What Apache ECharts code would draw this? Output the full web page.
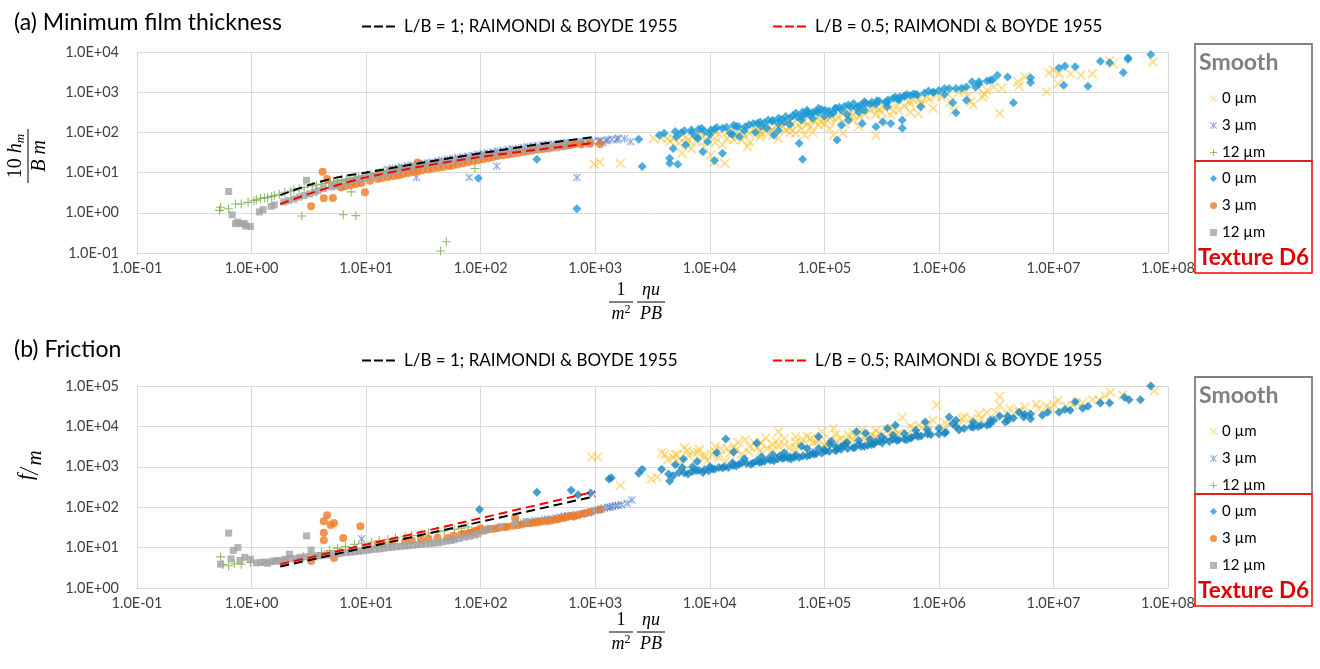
<!DOCTYPE html>
<html><head><meta charset="utf-8">
<script src="https://cdn.jsdelivr.net/npm/echarts@6/dist/echarts.min.js"></script>
<style>html,body{margin:0;padding:0;background:#fff}#c{width:1320px;height:669px}</style>
</head><body><div id="c"></div>
<script>
// ---------- tick labels ----------
const xTickLabels = ['1.0E-01','1.0E+00','1.0E+01','1.0E+02','1.0E+03','1.0E+04','1.0E+05','1.0E+06','1.0E+07','1.0E+08'];
const yTickLabelsA = ['1.0E-01','1.0E+00','1.0E+01','1.0E+02','1.0E+03','1.0E+04'];
const yTickLabelsB = ['1.0E+00','1.0E+01','1.0E+02','1.0E+03','1.0E+04','1.0E+05'];

// ---------- (a) Minimum film thickness ----------
const smooth0A = [[7.41e7,5.62e3],[3.31e7,5.13e3],[3.09e7,6.03e3],[2.19e7,2.88e3],[1.74e7,2.63e3],[1.41e7,2.88e3],[1.12e7,2.88e3],[1.10e7,1.62e3],[8.71e6,1.02e3],[1.00e7,3.55e3],[9.12e6,3.02e3],[5.62e6,2.40e3],[4.90e6,1.82e3],[3.39e6,295],[3.02e6,1.35e3],[2.63e6,1.12e3],[2.40e6,759],[2.00e6,479],[1.91e6,575],[1.66e6,1.12e3],[1.35e6,347],[1.05e6,759],[8.32e5,692],[6.61e5,295],[6.76e5,692],[5.62e5,525],[4.47e5,355],[3.80e5,269],[3.24e5,437],[2.82e5,85.1],[2.51e5,355],[2.04e5,245],[1.82e5,269],[1.45e5,95.5],[1.20e5,85.1],[1.51e5,166],[1.12e5,224],[8.91e4,245],[7.59e4,138],[6.76e4,85.1],[5.62e4,95.5],[4.79e4,182],[4.07e4,126],[3.55e4,85.1],[3.24e4,138],[2.75e4,77.6],[2.40e4,115],[2.14e4,43.7],[1.91e4,64.6],[1.62e4,64.6],[1.45e4,105],[1.29e4,49.0],[1.10e4,105],[1.02e4,27.5],[9.55e3,64.6],[8.13e3,95.5],[7.59e3,58.9],[6.92e3,39.8],[6.46e3,64.6],[5.75e3,30.2],[5.37e3,53.7],[4.79e3,70.8],[4.27e3,70.8],[3.80e3,70.8],[3.24e3,70.8],[1.35e4,17.0],[1.10e4,18.6],[1.66e3,17.0],[1.10e3,18.2],[977,16.2],[5.01e4,126],[7.94e4,200],[1.00e5,158],[1.58e5,224],[2.24e5,282],[2.00e4,89.1],[2.82e4,100],[3.16e5,316],[5.01e5,447],
  [4.5e3,60],[5.2e3,80],[6.2e3,75],[7.2e3,85],[8.5e3,75],[1.05e4,80],[1.2e4,90],[1.5e4,85],[1.7e4,100],[1.9e4,110],[2.2e4,95],[2.6e4,120],[2.9e4,130],[3.4e4,110],[3.8e4,150],[4.3e4,140],[4.6e4,115],[5.2e4,160],[5.9e4,150],[6.6e4,180],[7.1e4,160],[8.3e4,190],[9.3e4,180],[1.05e5,210],[1.15e5,260],[1.3e5,250],[1.45e5,290],[1.65e5,270],[1.9e5,320],[2.2e5,370],[2.7e5,400],[3.0e5,380],[3.5e5,470],[4.2e5,520],[5.5e5,600],[6.0e5,650],[7.0e5,560],[7.8e5,750],[9.5e5,820],[1.2e6,900],[1.5e6,1000],[2.2e6,1300],
  [6.3e3,50],[8.9e3,45],[1.12e4,56],[1.41e4,71],[1.78e4,79],[2.24e4,56],[2.82e4,89],[3.55e4,112],[3.98e4,71],[5.0e4,100],[6.3e4,126],[7.9e4,100],[8.9e4,158],[1.12e5,126],[1.26e5,200],[1.78e5,200],[2.0e5,141],[2.82e5,282],[3.16e5,200],[3.98e5,355],[5.62e5,316],[7.08e5,501],[8.9e5,398],[1.26e6,562],[1.78e6,794],[2.5e6,891],[3.55e6,1260],[5.0e6,1410]];
const smooth3A = [[15.5,12.0],[22.9,14.5],[34.7,17.4],[51.3,21.4],[77.6,25.7],[115,30.9],[174,37.2],[257,43.7],[389,50.1],[575,55.0],[871,60.3],[1.07e3,60.3],[1.29e3,66.1],[1.58e3,72.4],[1.55e3,64.6],[2.04e3,58.9],[27.5,7.59],[79.4,7.59],[138,14.5],[692,7.59],[19.1,13.2],[28.2,15.8],[42.7,19.5],[63.1,23.4],[95.5,28.2],[141,33.9],[214,39.8],[316,46.8],[479,52.5],[708,57.5],[1.17e3,55.0],[794,52.5],
  [17,12.6],[20.5,13.8],[25,15],[31,16.6],[38,18.2],[46,20.0],[57,22.4],[70,24.5],[86,27],[105,29.5],[128,32.4],[157,35.5],[190,38.5],[235,42],[285,45.7],[350,49],[430,51],[530,54],[650,56],[780,58],[950,59],[1.25e3,62],[1.4e3,68],[1.1e3,63],[1.8e3,70]];
const smooth12A = [[0.525,1.15],[0.537,1.38],[0.631,1.26],[0.724,1.66],[0.813,1.66],[0.933,1.82],[1.05,2.00],[1.20,2.29],[1.38,2.40],[1.58,2.69],[1.95,3.24],[2.88,4.27],[4.07,5.13],[5.62,6.31],[7.94,7.59],[11.0,9.12],[15.5,11.0],[21.9,13.2],[30.2,15.8],[89.1,12.6],[2.75,0.832],[7.41,3.31],[6.31,0.891],[8.13,0.851],[50.1,0.191],[44.7,0.112],[2.34,3.72],[3.39,4.68],[4.79,5.75],[6.76,6.92],[9.33,8.32],[13.2,10.0],
  [1.1,2.1],[1.3,2.35],[1.5,2.55],[1.75,2.9],[2.2,3.45],[2.6,3.9],[3.7,4.9],[4.4,5.4],[5.2,5.9],[6.1,6.6],[7.2,7.2],[8.6,7.9],[10.3,8.7],[12.2,9.6],[14.3,10.6],[17,11.6],[19.5,12.4],[24,14],[27,14.9],[34,16.5],[40,17.6]];
const tex0A = [[7.08e7,8.71e3],[4.47e7,7.24e3],[4.47e7,6.61e3],[4.07e7,3.09e3],[3.09e7,5.37e3],[2.57e7,5.89e3],[2.00e7,1.41e3],[1.55e7,4.27e3],[1.26e7,4.47e3],[1.12e7,3.98e3],[1.23e7,1.48e3],[6.31e6,1.74e3],[6.31e6,2.29e3],[4.47e6,550],[3.98e6,2.40e3],[3.24e6,2.63e3],[2.95e6,2.04e3],[2.63e6,1.91e3],[2.24e6,1.82e3],[2.09e6,1.35e3],[1.95e6,1.82e3],[1.74e6,1.35e3],[1.74e6,631],[1.41e6,1.23e3],[1.32e6,550],[1.41e6,309],[1.23e6,1.23e3],[1.12e6,1.23e3],[8.13e5,1.07e3],[6.92e5,437],[5.25e5,871],[4.57e5,759],[4.17e5,759],[3.55e5,437],[2.88e5,617],[2.82e5,138],[3.24e5,182],[3.80e5,166],[4.79e5,204],[4.79e5,126],[2.24e5,575],[2.14e5,166],[1.91e5,398],[1.62e5,479],[1.62e5,204],[1.41e5,151],[1.29e5,64.6],[1.20e5,302],[1.02e5,355],[8.91e4,398],[7.59e4,269],[6.46e4,324],[5.62e4,302],[6.31e4,204],[6.03e4,53.7],[6.46e4,21.4],[5.01e4,229],[4.47e4,182],[3.98e4,166],[3.63e4,85.1],[3.24e4,204],[2.75e4,182],[2.40e4,166],[2.04e4,138],[1.82e4,77.6],[1.62e4,151],[1.51e4,95.5],[1.29e4,126],[1.29e4,30.2],[1.15e4,132],[1.10e4,20.0],[1.02e4,115],[9.55e3,58.9],[8.51e3,126],[7.59e3,77.6],[6.92e3,115],[6.17e3,49.0],[5.62e3,97.7],[5.13e3,77.6],[4.79e3,39.8],[4.47e3,22.9],[4.47e3,17.0],[5.25e3,16.2],[3.63e3,85.1],[2.57e3,14.1],[2.40e3,67.6],[8.71e3,33.1],[309,21.4],[95.5,7.24],[692,1.26],[2.82e4,141],[7.94e4,316],[1.00e5,251],[2.00e5,316],[2.51e5,501],[3.98e5,708],[5.62e5,832],[3.98e4,224],[7.08e4,355],
  [4.0e3,95],[5.0e3,105],[6.0e3,110],[7.0e3,100],[8.0e3,120],[9.0e3,105],[1.1e4,120],[1.4e4,135],[1.7e4,140],[2.2e4,155],[2.6e4,170],[3.0e4,175],[3.5e4,190],[4.2e4,210],[4.6e4,250],[5.3e4,260],[5.8e4,240],[6.8e4,280],[7.2e4,300],[8.5e4,330],[9.5e4,370],[1.1e5,340],[1.25e5,400],[1.35e5,420],[1.5e5,450],[1.7e5,420],[1.8e5,520],[2.1e5,480],[2.3e5,540],[2.6e5,560],[3.0e5,600],[3.4e5,560],[3.6e5,650],[4.4e5,700],[5.0e5,800],[6.0e5,900],[6.5e5,850],[7.5e5,960],[9.0e5,1000],[1.0e6,1100],
  [7.9e3,71],[1.0e4,89],[1.58e4,89],[2.0e4,112],[2.5e4,100],[3.16e4,126],[3.98e4,112],[5.0e4,158],[6.3e4,251],[7.9e4,224],[8.9e4,316],[1.12e5,282],[1.41e5,355],[1.58e5,282],[2.0e5,447],[2.24e5,355],[2.82e5,501],[3.55e5,562],[4.47e5,631],[5.0e5,794],[6.3e5,891],[8.9e5,1000],[1.12e6,891],[1.58e6,1260],[2.24e6,1580],[2.82e6,2000],[1.78e4,141],[3.55e4,200],[7.08e4,316],[1.26e5,398]];
const tex3A = [[4.17,10.5],[4.57,6.92],[4.27,2.29],[5.13,2.34],[3.31,1.45],[9.77,3.24],[28.2,17.8],[6.03,4.27],[9.12,5.50],[12.6,6.92],[19.1,8.51],[28.2,11.0],[42.7,13.2],[63.1,15.8],[95.5,20.4],[141,25.7],[214,30.9],[316,37.2],[479,43.7],[661,51.3],[1.10e3,51.3],[7.41,4.90],[15.5,7.76],[23.4,9.77],[34.7,12.0],[52.5,14.5],[77.6,18.2],[117,22.9],[174,28.2],[257,33.9],[389,39.8],[562,46.8],
  [6.6,4.6],[8.2,5.2],[10.8,6.3],[13.8,7.3],[17.2,8.2],[21,9.2],[26,10.4],[31,11.5],[38,12.6],[47,13.8],[57,15.1],[70,17],[86,19.3],[105,21.6],[128,24.3],[157,27],[190,29.5],[235,32.5],[285,35.5],[350,38.5],[430,42],[520,45],[600,48],[750,50],[900,52]];
const tex12A = [[0.631,3.39],[0.676,0.891],[0.759,0.589],[0.813,0.537],[0.871,0.537],[0.891,0.468],[0.977,0.457],[0.724,0.537],[1.17,1.05],[1.26,1.20],[1.48,1.45],[1.58,1.58],[3.02,6.46],[2.34,2.19],[3.55,3.24],[5.25,4.68],[7.94,6.31],[11.7,8.32],[17.8,11.0],[26.3,14.1],[39.8,17.0],[58.9,20.4],[89.1,24.5],[132,29.5],[200,33.9],[295,38.9],[447,45.7],[575,49.0],[1.91,1.86],[2.88,2.69],[4.27,3.98],[6.46,5.50],[9.55,7.24],[14.5,9.55],[21.9,12.6],[32.4,15.5],[47.9,18.6],[72.4,22.4],[107,26.9],[162,31.6],[240,36.3],[363,41.7],
  [2.1,2.0],[2.6,2.45],[3.2,2.95],[3.8,3.55],[5.0,4.4],[5.8,5.0],[7.0,5.8],[8.7,6.8],[10.5,7.8],[12.8,8.9],[16.0,10.3],[19.5,11.7],[24,13.3],[29,14.8],[35,16.3],[43,17.8],[53,19.5],[65,21.4],[80,23.4],[97,25.5],[118,28.2],[145,30.5],[180,33],[220,35.5],[270,37.7],[330,40.5],[400,43.5],[510,47.5]];
const lb1A = [[1.78,2.75],[3.16,4.90],[5.62,7.60],[10,10.0],[31.6,17.8],[100,30.2],[316,50.1],[1000,77.6]];
const lb05A = [[1.78,1.66],[3.16,2.95],[5.62,4.90],[10,7.60],[31.6,14.5],[100,24.5],[316,37.2],[1000,55.0]];

// ---------- (b) Friction ----------
const smooth0B = [[7.59e7,7.59e4],[3.16e7,6.92e4],[2.82e7,5.75e4],[2.19e7,4.57e4],[1.48e7,3.31e4],[1.10e7,4.37e4],[8.71e6,3.16e4],[7.41e6,2.75e4],[5.62e6,3.02e4],[4.17e6,2.75e4],[3.39e6,5.50e4],[3.39e6,3.39e4],[2.63e6,2.24e4],[2.34e6,1.55e4],[1.91e6,1.55e4],[1.66e6,1.70e4],[9.55e5,3.39e4],[8.91e5,1.41e4],[6.76e5,1.07e4],[6.03e5,8.91e3],[4.79e5,1.70e4],[4.47e5,6.76e3],[3.55e5,8.13e3],[3.02e5,6.76e3],[2.57e5,6.17e3],[2.14e5,8.13e3],[1.91e5,5.13e3],[1.62e5,6.17e3],[1.41e5,5.13e3],[1.20e5,8.91e3],[1.12e5,4.68e3],[9.55e4,7.41e3],[7.59e4,5.13e3],[6.46e4,4.68e3],[5.62e4,5.62e3],[5.01e4,2.95e3],[3.98e4,7.41e3],[3.80e4,4.27e3],[3.09e4,5.13e3],[2.75e4,2.45e3],[2.45e4,3.89e3],[2.04e4,4.68e3],[1.91e4,2.04e3],[1.62e4,3.24e3],[1.38e4,1.41e3],[1.20e4,1.70e3],[1.10e4,2.45e3],[9.55e3,1.41e3],[8.13e3,2.69e3],[7.24e3,2.24e3],[6.76e3,794],[6.03e3,2.95e3],[5.50e3,1.26e3],[4.79e3,1.70e3],[4.07e3,2.04e3],[3.80e3,2.24e3],[3.47e3,550],[3.09e3,501],[1.66e3,347],[1.05e3,1.74e3],[933,1.74e3],[3.16e4,2.82e3],[4.47e4,3.55e3],[7.94e4,3.98e3],[1.00e5,3.55e3],[1.58e5,4.47e3],[2.51e5,5.01e3],[3.98e5,6.31e3],[1.26e6,1.12e4],[3.98e6,2.00e4],
  [4.3e3,1500],[5.2e3,2000],[6.5e3,1900],[7.8e3,2300],[9.0e3,1700],[1.05e4,2000],[1.25e4,2800],[1.5e4,2200],[1.7e4,2600],[2.2e4,2300],[2.6e4,3000],[3.5e4,2600],[4.0e4,3200],[5.5e4,3000],[6.2e4,3500],[7.0e4,2800],[8.5e4,4200],[1.05e5,4000],[1.3e5,4400],[1.5e5,3800],[1.75e5,4700],[2.3e5,4400],[2.8e5,5500],[3.4e5,5200],[4.2e5,6000],[5.3e5,6500],[6.5e5,7500],[8.0e5,7800],[1.1e6,9000],[1.5e6,1.1e4],[2.0e6,1.2e4],[5.0e6,2.2e4],[9.5e6,2.7e4],[1.3e7,3.2e4],[1.8e7,3.8e4],[2.5e7,4.5e4],[4.0e7,6.0e4],
  [5.0e3,2000],[6.3e3,2510],[8.9e3,2000],[1.12e4,3160],[1.41e4,2820],[1.78e4,3980],[2.24e4,3160],[2.82e4,3980],[3.55e4,3550],[4.47e4,5010],[5.62e4,3980],[7.08e4,5620],[8.9e4,4470],[1.26e5,6310],[1.78e5,7080],[2.24e5,5620],[2.82e5,7940],[3.98e5,8910],[5.62e5,1.0e4],[7.9e5,1.12e4],[1.12e6,1.26e4],[1.58e6,1.58e4],[2.24e6,2.0e4],[3.16e6,2.24e4],[5.0e6,2.51e4],[7.08e6,3.55e4],[1.0e7,3.55e4],[1.58e7,3.98e4]];
const smooth3B = [[9.12,16.6],[275,43.7],[389,49.0],[537,60.3],[759,67.6],[1.00e3,81.3],[1.29e3,100],[1.58e3,110],[2.09e3,151],[331,45.7],[457,53.7],[631,63.1],[871,72.4],[1.12e3,89.1],[1.41e3,105],[224,39.8],
  [300,47],[360,50],[420,52],[500,57],[580,61],[690,66],[800,70],[920,77],[1.05e3,85],[1.2e3,95],[1.35e3,100],[1.5e3,108],[1.7e3,115],[1.9e3,125]];
const smooth12B = [[0.537,5.89],[0.631,3.55],[0.813,3.89],[0.977,4.27],[0.562,3.80],[0.708,3.98],[4.07,7.59],[7.94,12.0],[15.5,15.8],[30.2,21.4],[58.9,28.2],[77.6,32.4],[5.62,9.55],[11.2,13.8],[21.9,18.6],[41.7,24.5],[2.82,6.03],
  [3.3,6.8],[4.8,8.5],[6.6,10.6],[9.2,12.8],[13,15],[18,17.2],[25,20],[35,23],[48,26],[68,30]];
const tex0B = [[7.08e7,1.00e5],[5.75e7,4.57e4],[4.57e7,4.57e4],[4.17e7,5.25e4],[3.09e7,3.80e4],[2.57e7,3.80e4],[2.00e7,3.16e4],[1.55e7,4.07e4],[1.26e7,2.63e4],[1.12e7,2.24e4],[6.31e6,1.55e4],[6.31e6,2.04e4],[5.01e6,2.24e4],[4.47e6,1.62e4],[3.80e6,1.29e4],[3.39e6,1.82e4],[3.02e6,1.41e4],[2.63e6,1.07e4],[2.34e6,1.07e4],[1.91e6,9.77e3],[1.66e6,8.91e3],[1.41e6,1.41e4],[1.23e6,1.70e4],[1.32e6,1.17e4],[1.12e6,6.76e3],[1.00e6,6.46e3],[7.59e5,1.29e4],[7.94e5,6.46e3],[6.61e5,5.62e3],[5.62e5,5.13e3],[5.25e5,4.68e3],[4.17e5,1.07e4],[4.47e5,4.68e3],[3.55e5,8.91e3],[3.39e5,4.68e3],[3.02e5,4.27e3],[2.57e5,3.55e3],[2.29e5,6.76e3],[2.24e5,3.24e3],[1.91e5,7.41e3],[1.78e5,2.95e3],[1.51e5,3.55e3],[1.29e5,2.69e3],[1.15e5,4.27e3],[1.02e5,2.45e3],[8.91e4,5.62e3],[8.13e4,2.04e3],[7.08e4,1.86e3],[6.31e4,3.24e3],[6.03e4,1.70e3],[5.13e4,1.55e3],[4.47e4,1.70e3],[4.07e4,1.86e3],[3.63e4,1.41e3],[3.24e4,1.55e3],[2.57e4,1.41e3],[2.57e4,3.89e3],[2.29e4,1.15e3],[1.91e4,1.26e3],[1.62e4,2.34e3],[1.70e4,1.05e3],[1.45e4,955],[1.38e4,4.90e3],[1.29e4,933],[1.15e4,2.24e3],[1.10e4,871],[9.77e3,794],[8.71e3,724],[7.76e3,1.35e3],[7.59e3,794],[6.46e3,661],[5.89e3,1.55e3],[5.75e3,955],[5.37e3,724],[4.79e3,603],[4.47e3,447],[4.37e3,661],[3.80e3,871],[2.57e3,871],[2.40e3,692],[1.32e3,501],[2.82e4,1.32e3],[5.01e4,1.78e3],[7.94e4,2.24e3],[1.00e5,2.63e3],[1.41e5,3.16e3],[2.00e5,3.55e3],[2.82e5,4.17e3],[3.98e5,4.79e3],[6.31e5,6.03e3],[2.00e6,9.55e3],[97.7,87.1],[309,234],[617,263],[708,204],[912,224],[1.38e3,537],
  [6.0e3,700],[7.0e3,760],[8.0e3,820],[9.0e3,850],[1.05e4,900],[1.2e4,960],[1.35e4,1000],[1.6e4,1080],[1.8e4,1150],[2.1e4,1200],[2.4e4,1250],[2.7e4,1300],[3.0e4,1380],[3.4e4,1450],[3.9e4,1550],[4.3e4,1600],[4.8e4,1650],[5.5e4,1720],[6.5e4,1850],[7.5e4,1950],[8.5e4,2100],[9.5e4,2200],[1.1e5,2400],[1.25e5,2500],[1.4e5,2700],[1.6e5,2850],[1.85e5,3000],[2.1e5,3200],[2.4e5,3400],[2.7e5,3600],[3.2e5,3900],[3.7e5,4200],[4.3e5,4500],[5.0e5,4800],[5.8e5,5300],[7.0e5,5800],[8.5e5,6200],[1.15e6,7200],[1.5e6,8200],[2.2e6,1.0e4],[2.8e6,1.15e4],[4.0e6,1.4e4],[5.5e6,1.7e4],[8.0e6,1.9e4],[1.4e7,2.5e4],[1.8e7,2.8e4],
  [1.0e4,1000],[1.58e4,1260],[2.0e4,1580],[2.82e4,1780],[3.55e4,2000],[4.47e4,2240],[5.62e4,2000],[7.08e4,2820],[8.9e4,2820],[1.12e5,3550],[1.26e5,3160],[1.58e5,3980],[2.0e5,4470],[2.5e5,4790],[3.16e5,5620],[3.98e5,6030],[5.0e5,6610],[6.3e5,7940],[7.9e5,8320],[1.0e6,8910],[1.41e6,1.0e4],[2.0e6,1.26e4],[2.82e6,1.41e4],[3.98e6,1.78e4],[5.62e6,2.0e4],[8.9e6,2.24e4],[7.08e3,1000],[5.0e3,1120]];
const tex3B = [[4.57,63.1],[4.27,44.7],[5.25,40.7],[4.90,36.3],[4.27,23.4],[4.27,15.1],[6.31,17.4],[8.91,33.9],[3.31,4.68],[5.25,5.50],[51.3,17.4],[67.6,21.4],[89.1,25.7],[115,28.2],[162,32.4],[229,37.2],[316,42.7],[447,49.0],[617,60.3],[1.10e3,87.1],[200,53.7],[12.6,12.0],[21.9,14.5],[30.2,15.8],[79.4,22.9],[100,30.2],[135,29.5],[191,34.7],[269,39.8],[380,45.7],[525,53.7],[708,63.1],
  [14,12.5],[17,13.6],[25,15.2],[35,16.7],[42,17.5],[58,19.6],[72,22],[85,24],[95,27],[105,26],[125,29],[145,31],[170,33],[210,36],[250,40],[290,41],[340,44],[410,47],[480,51],[560,56],[650,59],[800,70],[900,76]];
const tex12B = [[0.631,22.9],[0.692,8.51],[0.759,10.0],[3.02,19.5],[0.537,3.89],[0.871,5.75],[0.977,5.13],[1.20,4.27],[1.38,4.07],[1.58,4.68],[1.95,5.13],[2.14,6.92],[2.69,5.75],[3.31,8.71],[4.07,6.31],[5.62,7.08],[7.94,7.94],[11.0,8.91],[15.5,10.0],[21.9,11.0],[30.2,12.0],[42.7,13.2],[58.9,15.8],[89.1,20.4],[107,26.3],[200,40.7],[0.661,5.25],[0.794,4.79],[4.79,6.61],[6.76,7.59],[9.33,8.32],[13.2,9.33],[18.6,10.5],[25.7,11.5],[36.3,12.6],[50.1,14.5],[72.4,18.2],[1.78,4.57],[2.40,5.25],[3.55,5.89],
  [1.1,4.2],[1.3,4.4],[1.5,4.5],[1.7,4.8],[2.0,4.9],[2.2,5.4],[2.6,5.5],[3.0,5.9],[3.8,6.3],[4.4,6.6],[5.2,7.0],[6.1,7.3],[7.3,7.7],[8.6,8.1],[10.2,8.6],[12,9.1],[14.3,9.7],[16.8,10.2],[20,10.8],[23.5,11.2],[28,11.8],[33,12.4],[39,13],[46,13.8],[55,15],[65,16.9],[80,19],[95,22],[150,33],[120,30],[250,44]];
const lb1B = [[1.78,3.4],[31.6,21.0],[1000,186]];
const lb05B = [[1.78,3.9],[31.6,25.0],[1000,245]];

// ---------- names ----------
const seriesNames = ['Smooth 0 µm','Smooth 3 µm','Smooth 12 µm','Texture 0 µm','Texture 3 µm','Texture 12 µm'];
const lineNames = ['L/B = 1; RAIMONDI & BOYDE 1955','L/B = 0.5; RAIMONDI & BOYDE 1955'];

const FONT = 'Lato';
const SERIF = 'Liberation Serif';
const SYM_X = 'path://M0,1.2L1.2,0L5,3.8L8.8,0L10,1.2L6.2,5L10,8.8L8.8,10L5,6.2L1.2,10L0,8.8L3.8,5Z';
const SYM_STAR = 'path://M0,1.2L1.2,0L5,3.8L8.8,0L10,1.2L6.2,5L10,8.8L8.8,10L5,6.2L1.2,10L0,8.8L3.8,5Z M4.4,0L5.6,0L5.6,10L4.4,10Z';
const SYM_PLUS = 'path://M4.4,0L5.6,0L5.6,4.4L10,4.4L10,5.6L5.6,5.6L5.6,10L4.4,10L4.4,5.6L0,5.6L0,4.4L4.4,4.4Z';
const styles = [
  {symbol:SYM_X, size:10, color:['rgba(250,185,20,0.6)','rgba(250,185,20,0.6)']},
  {symbol:SYM_STAR, size:8, color:['rgba(68,114,196,0.7)','rgba(68,114,196,0.7)']},
  {symbol:SYM_PLUS, size:9, color:['#70AD47','#70AD47']},
  {symbol:'diamond', size:9, color:['#1E9AD6','#1686C0']},
  {symbol:'circle', size:8, color:['#F07A22','#F07A22']},
  {symbol:'rect', size:7, color:['#A3A3A3','#A3A3A3']}
];

function expLabel(list, minExp) {
  return function (v) {
    const e = Math.round(Math.log10(v));
    return list[e - minExp] || '';
  };
}

const grids = [
  {left:137, top:52, width:1031, height:201},
  {left:137, top:386, width:1031, height:202}
];
const axisCommon = {
  type:'log', logBase:10,
  axisLine:{show:true, lineStyle:{color:'#D9D9D9'}},
  axisTick:{show:false},
  splitLine:{show:true, lineStyle:{color:'#D9D9D9', width:1}},
  minorSplitLine:{show:false}
};
const lblStyle = {color:'#404040', fontFamily:FONT, fontSize:14.5};
const xAxes = [0,1].map(i => Object.assign({}, axisCommon, {
  gridIndex:i, min:0.1, max:1e8,
  axisLabel:Object.assign({formatter:expLabel(xTickLabels,-1), margin:8}, lblStyle)
}));
const yAxes = [
  Object.assign({}, axisCommon, {gridIndex:0, min:0.1, max:1e4,
    axisLabel:Object.assign({formatter:expLabel(yTickLabelsA,-1), margin:18}, lblStyle)}),
  Object.assign({}, axisCommon, {gridIndex:1, min:1, max:1e5,
    axisLabel:Object.assign({formatter:expLabel(yTickLabelsB,0), margin:18}, lblStyle)})
];

const dataA = [smooth0A, smooth3A, smooth12A, tex0A, tex3A, tex12A];
const dataB = [smooth0B, smooth3B, smooth12B, tex0B, tex3B, tex12B];
const series = [];
[dataA, dataB].forEach((set, gi) => {
  set.forEach((d, k) => {
    series.push({
      name: seriesNames[k], type:'scatter', xAxisIndex:gi, yAxisIndex:gi,
      data:d, symbol:styles[k].symbol, symbolSize:styles[k].size,
      itemStyle:{color:styles[k].color[gi]}, z:2+k, emphasis:{disabled:true}
    });
  });
});
[[lb1A, lb05A],[lb1B, lb05B]].forEach((pair, gi) => {
  pair.forEach((d, k) => {
    series.push({
      name: lineNames[k], type:'line', xAxisIndex:gi, yAxisIndex:gi, data:d,
      showSymbol:false, symbol:'none', smooth: gi === 0 ? 0.3 : false,
      lineStyle:{color: k===0 ? '#000000' : '#FF0000', width:2, type:[9,5]},
      itemStyle:{color: k===0 ? '#000000' : '#FF0000'},
      z:20
    });
  });
});

function legendBox(names, top) {
  return {
    data: names, orient:'vertical', left:1205, top: top,
    itemWidth:7, itemHeight:7, itemGap:12, selectedMode:false,
    formatter: n => n.split(' ').slice(1).join(' '),
    textStyle:{fontFamily:FONT, fontSize:15, color:'#000', lineHeight:15}
  };
}
function lineLegend(name, left, top) {
  return {
    data:[{name:name, icon:'path://M0,0L9,0L9,2L0,2Z M12,0L21,0L21,2L12,2Z M24,0L33,0L33,2L24,2Z'}],
    left:left, top:top, itemWidth:33, itemHeight:2, itemGap:0, selectedMode:false,
    textStyle:{fontFamily:FONT, fontSize:17, color:'#000', padding:[0,0,0,4]}
  };
}
const offB = 333;
const legends = [
  legendBox(seriesNames.slice(0,3), 86),
  legendBox(seriesNames.slice(3), 166),
  legendBox(seriesNames.slice(0,3), 86+offB),
  legendBox(seriesNames.slice(3), 166+offB),
  lineLegend(lineNames[0], 357, 13),
  lineLegend(lineNames[1], 768, 13),
  lineLegend(lineNames[0], 357, 347),
  lineLegend(lineNames[1], 768, 347)
];

function fracY(cx, cy) {
  return {
    type:'group', x:cx, y:cy, rotation:Math.PI/2,
    children:[
      {type:'text', x:0, y:-12, style:{text:'{n|10 }{i|h}{s|m}', rich:{
        n:{fontFamily:SERIF, fontSize:20, fill:'#000'},
        i:{fontFamily:SERIF, fontStyle:'italic', fontSize:20, fill:'#000'},
        s:{fontFamily:SERIF, fontStyle:'italic', fontSize:13, fill:'#000', padding:[9,0,0,0]}
      }, align:'center', verticalAlign:'middle'}},
      {type:'line', shape:{x1:-27, y1:0, x2:27, y2:0}, style:{stroke:'#000', lineWidth:1}},
      {type:'text', x:0, y:12, style:{text:'B m', fontFamily:SERIF, fontStyle:'italic', fontSize:20, fill:'#000', align:'center', verticalAlign:'middle'}}
    ]
  };
}
function fracFM(cx, cy) {
  return {
    type:'group', x:cx, y:cy, rotation:Math.PI/2,
    children:[
      {type:'text', x:-9, y:-4, style:{text:'f', fontFamily:SERIF, fontStyle:'italic', fontSize:21, fill:'#000', align:'center', verticalAlign:'middle'}},
      {type:'line', shape:{x1:-7, y1:8, x2:1, y2:-10}, style:{stroke:'#000', lineWidth:1}},
      {type:'text', x:10, y:5, style:{text:'m', fontFamily:SERIF, fontStyle:'italic', fontSize:21, fill:'#000', align:'center', verticalAlign:'middle'}}
    ]
  };
}
function fracX(cx, cy) {
  const T = (t, x, y, it) => ({type:'text', x:x, y:y, style:{text:t, fontFamily:SERIF, fontStyle: it ? 'italic' : 'normal', fontSize:18, fill:'#000', align:'center', verticalAlign:'middle'}});
  return {
    type:'group', x:cx, y:cy,
    children:[
      T('1', -16, -12, false),
      {type:'line', shape:{x1:-28, y1:0, x2:-4, y2:0}, style:{stroke:'#000', lineWidth:1}},
      {type:'text', x:-16, y:12, style:{text:'{i|m}{s|2}', rich:{i:{fontFamily:SERIF, fontStyle:'italic', fontSize:18, fill:'#000'}, s:{fontFamily:SERIF, fontSize:12, fill:'#000', padding:[0,0,8,0]}}, align:'center', verticalAlign:'middle'}},
      T('ηu', 14, -12, true),
      {type:'line', shape:{x1:0, y1:0, x2:28, y2:0}, style:{stroke:'#000', lineWidth:1}},
      T('PB', 14, 12, true)
    ]
  };
}
function boxes(dy) {
  return [
    {type:'rect', shape:{x:1195, y:44+dy, width:117, height:117}, style:{fill:'none', stroke:'#808080', lineWidth:1.8}, z:1},
    {type:'rect', shape:{x:1195, y:161+dy, width:117, height:112}, style:{fill:'none', stroke:'#FF0000', lineWidth:1.5}, z:2},
    {type:'text', x:1199, y:63+dy, style:{text:'Smooth', fontFamily:FONT, fontWeight:'bold', fontSize:23, fill:'#808080', verticalAlign:'middle'}},
    {type:'text', x:1198, y:258+dy, style:{text:'Texture D6', fontFamily:FONT, fontWeight:'bold', fontSize:22.5, fill:'#E00000', verticalAlign:'middle'}}
  ];
}

const option = {
  animation:false,
  backgroundColor:'#fff',
  title:[
    {text:'(a) Minimum film thickness', left:9, top:6, textStyle:{fontFamily:FONT, fontWeight:'normal', fontSize:23, color:'#000'}},
    {text:'(b) Friction', left:9, top:333, textStyle:{fontFamily:FONT, fontWeight:'normal', fontSize:23, color:'#000'}}
  ],
  grid:grids, xAxis:xAxes, yAxis:yAxes,
  legend:legends,
  series:series,
  graphic:[].concat(boxes(0), boxes(offB), [fracY(28,156), fracFM(30,468), fracX(637,302), fracX(637,632)])
};
const chart = echarts.init(document.getElementById('c'), null, {renderer:'canvas'});
chart.setOption(option);
</script></body></html>
